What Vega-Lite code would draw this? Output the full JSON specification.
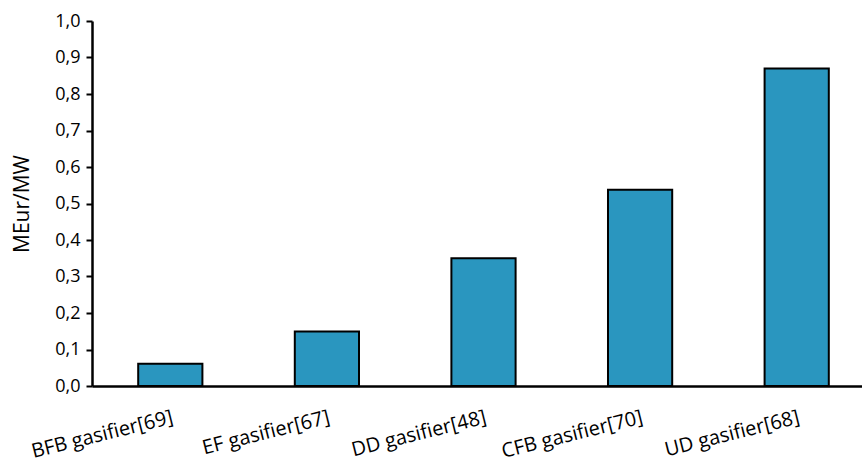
{
  "$schema": "https://vega.github.io/schema/vega-lite/v6.json",
  "autosize": {"type": "none"},
  "padding": {"left": 92, "top": 21, "right": 0, "bottom": 79},
  "width": 783,
  "height": 365,
  "background": "white",
  "data": {
    "values": [
      {"gasifier": "BFB gasifier[69]", "cost": 0.061},
      {"gasifier": "EF gasifier[67]", "cost": 0.149},
      {"gasifier": "DD gasifier[48]", "cost": 0.35},
      {"gasifier": "CFB gasifier[70]", "cost": 0.538},
      {"gasifier": "UD gasifier[68]", "cost": 0.87}
    ]
  },
  "mark": {"type": "bar", "color": "#2A96BF", "stroke": "#000000", "strokeWidth": 2},
  "encoding": {
    "x": {
      "field": "gasifier",
      "type": "nominal",
      "sort": null,
      "scale": {"paddingInner": 0.59, "paddingOuter": 0.295},
      "axis": {
        "title": null,
        "ticks": false,
        "domainColor": "#000000",
        "domainWidth": 2.5,
        "labelAngle": -14,
        "labelAlign": "right",
        "labelBaseline": "top",
        "labelPadding": 21,
        "labelFont": "Open Sans",
        "labelFontSize": 20,
        "labelColor": "#000000",
        "labelOverlap": false,
        "labelLimit": 300
      }
    },
    "y": {
      "field": "cost",
      "type": "quantitative",
      "scale": {"domain": [0, 1], "nice": false},
      "axis": {
        "title": "MEur/MW",
        "titleFont": "Open Sans",
        "titleFontSize": 21,
        "titleFontWeight": "normal",
        "titleColor": "#000000",
        "titlePadding": 22,
        "values": [0, 0.1, 0.2, 0.3, 0.4, 0.5, 0.6, 0.7, 0.8, 0.9, 1.0],
        "labelExpr": "replace(format(datum.value, '.1f'), '.', ',')",
        "labelFont": "Open Sans",
        "labelFontSize": 18,
        "labelColor": "#000000",
        "labelPadding": 6,
        "grid": false,
        "domainColor": "#000000",
        "domainWidth": 2.5,
        "tickColor": "#000000",
        "tickWidth": 2,
        "tickSize": 6
      }
    }
  },
  "config": {"view": {"stroke": null}}
}
